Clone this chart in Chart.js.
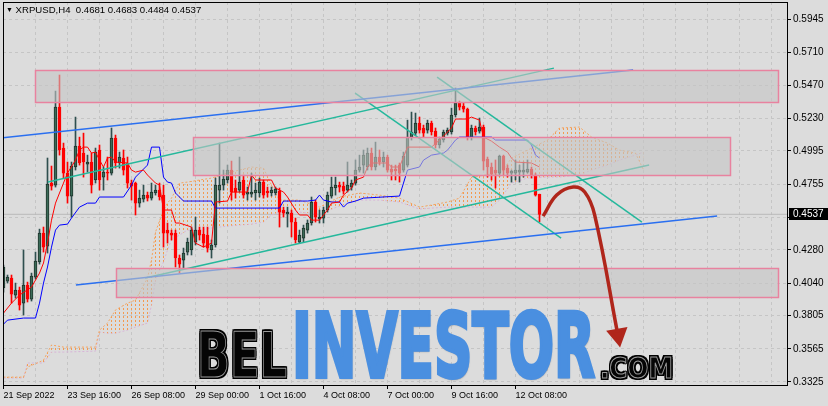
<!DOCTYPE html>
<html lang="en">
<head>
<meta charset="UTF-8">
<title>XRPUSD,H4</title>
<style>
  body { margin: 0; background: #dcdcdc; }
  .wrap { position: relative; width: 828px; height: 406px; overflow: hidden; background: #dcdcdc; }
  canvas { display: block; }
  .title { position: absolute; left: 6px; top: 4px; font: 9.6px 'Liberation Sans', Arial, sans-serif; color: #000; white-space: pre; line-height: 12px; }
  .title .tri { font-size: 7px; vertical-align: 1px; }
  .wm { position: absolute; white-space: nowrap; line-height: 1; transform-origin: 0 0; font-family: 'DejaVu Sans', sans-serif; font-weight: bold; }
  .blk { color: #050505; -webkit-text-stroke: 1px #9a9a9a;
         text-shadow: 2px 0 0 #000, -2px 0 0 #000, 0 2px 0 #000, 0 -2px 0 #000, 2px 2px 0 #000, -2px -2px 0 #000, 2px -2px 0 #000, -2px 2px 0 #000; }
  .blue { color: #4a8fe0; -webkit-text-stroke: 4px #4a8fe0; text-shadow: 1px 2px 2px rgba(0,0,0,0.35); }
</style>
<script src="https://cdn.jsdelivr.net/npm/chart.js"></script>
</head>
<body>
<div class="wrap">
  <canvas id="chart" width="828" height="406"></canvas>
  <div class="title"><span class="tri">▼</span> XRPUSD,H4  0.4681 0.4683 0.4484 0.4537</div>
  <span id="wmBel" class="wm blk">BEL</span>
  <span id="wmInv" class="wm blue">INVESTOR</span>
  <span id="wmCom" class="wm blk">.COM</span>
</div>

<script>
// ---- data ----
const xLabels = ['21 Sep 2022', '23 Sep 16:00', '26 Sep 08:00', '29 Sep 00:00', '1 Oct 16:00',
                 '4 Oct 08:00', '7 Oct 00:00', '9 Oct 16:00', '12 Oct 08:00'];
const yTicks = [0.5945, 0.5710, 0.5470, 0.5230, 0.4995, 0.4755, 0.4515, 0.4280, 0.4040, 0.3805, 0.3565, 0.3325];
const lastPrice = 0.4537;

const opens = [0.4004,0.4054,0.4076,0.3953,0.3989,0.3895,0.4025,0.3924,0.4083,0.4192,
  0.4401,0.4307,0.4763,0.4748,0.5312,0.5016,0.4835,0.4669,0.4879,0.5030,
  0.4980,0.4900,0.4915,0.4785,0.5002,0.4806,0.4842,0.4835,0.5088,0.4908,
  0.4944,0.4908,0.4763,0.4763,0.4618,0.4647,0.4676,0.4654,0.4691,0.4712,
  0.4676,0.4423,0.4401,0.4401,0.4221,0.4206,0.4264,0.4279,0.4336,0.4423,
  0.4394,0.4387,0.4279,0.4315,0.4712,0.4748,0.4785,0.4857,0.4727,0.4712,
  0.4785,0.4683,0.4683,0.4691,0.4691,0.4770,0.4705,0.4691,0.4691,0.4705,
  0.4568,0.4539,0.4546,0.4481,0.4336,0.4365,0.4423,0.4474,0.4626,0.4503,
  0.4510,0.4568,0.4669,0.4727,0.4748,0.4741,0.4712,0.4734,0.4763,0.4857,
  0.4893,0.4879,0.4980,0.4879,0.4951,0.4915,0.4951,0.4864,0.4864,0.4893,
  0.4857,0.4893,0.5095,0.5124,0.5197,0.5161,0.5146,0.5197,0.5139,0.5038,
  0.5074,0.5124,0.5132,0.5255,0.5341,0.5320,0.5298,0.5095,0.5161,0.5139,
  0.5168,0.4937,0.4879,0.4857,0.4835,0.4958,0.4871,0.4835,0.4835,0.4842,
  0.4842,0.4842,0.4864,0.4821,0.4681];
const highs = [0.4170,0.4098,0.4098,0.4040,0.4011,0.4279,0.4047,0.4112,0.4264,0.4430,
  0.4445,0.4944,0.4886,0.5428,0.5544,0.5052,0.4915,0.4915,0.5240,0.5095,
  0.5124,0.4965,0.4980,0.5016,0.5038,0.4879,0.4951,0.5161,0.5110,0.4987,
  0.5002,0.4951,0.4785,0.4770,0.4712,0.4748,0.4698,0.4763,0.4748,0.4763,
  0.4748,0.4474,0.4423,0.4423,0.4243,0.4293,0.4365,0.4445,0.4517,0.4445,
  0.4445,0.4445,0.4351,0.4799,0.5052,0.4857,0.4893,0.4922,0.4785,0.4951,
  0.4821,0.4734,0.4835,0.4763,0.4799,0.4785,0.4734,0.4734,0.4734,0.4727,
  0.4589,0.4589,0.4568,0.4510,0.4423,0.4459,0.4496,0.4662,0.4640,0.4568,
  0.4589,0.4698,0.4806,0.4806,0.4770,0.4770,0.4915,0.4785,0.4930,0.4965,
  0.5002,0.5016,0.5016,0.5059,0.5002,0.4987,0.4965,0.4893,0.4893,0.4908,
  0.4987,0.5218,0.5276,0.5269,0.5240,0.5182,0.5218,0.5211,0.5161,0.5095,
  0.5146,0.5161,0.5305,0.5450,0.5356,0.5341,0.5305,0.5182,0.5175,0.5233,
  0.5182,0.4951,0.4908,0.4930,0.4965,0.4965,0.4893,0.4857,0.4930,0.4893,
  0.4915,0.4930,0.4879,0.4835,0.4683];
const lows = [0.3975,0.4040,0.3895,0.3931,0.3845,0.3809,0.3903,0.3910,0.4069,0.4177,
  0.4264,0.4257,0.4712,0.4734,0.4965,0.4799,0.4618,0.4517,0.4857,0.4893,
  0.4806,0.4842,0.4691,0.4763,0.4712,0.4712,0.4785,0.4821,0.4871,0.4871,
  0.4821,0.4727,0.4640,0.4532,0.4589,0.4626,0.4633,0.4640,0.4676,0.4640,
  0.4300,0.4329,0.4351,0.4156,0.4112,0.4141,0.4243,0.4243,0.4315,0.4351,
  0.4300,0.4264,0.4221,0.4300,0.4618,0.4712,0.4763,0.4640,0.4654,0.4698,
  0.4654,0.4640,0.4662,0.4640,0.4662,0.4654,0.4662,0.4669,0.4676,0.4445,
  0.4517,0.4445,0.4373,0.4329,0.4329,0.4336,0.4401,0.4459,0.4481,0.4474,
  0.4474,0.4553,0.4654,0.4676,0.4698,0.4683,0.4698,0.4712,0.4748,0.4842,
  0.4835,0.4857,0.4857,0.4857,0.4893,0.4879,0.4842,0.4785,0.4785,0.4770,
  0.4842,0.4879,0.5074,0.5110,0.5124,0.5095,0.5124,0.5110,0.5016,0.5016,
  0.5059,0.5110,0.5117,0.5240,0.5291,0.5276,0.5074,0.5074,0.5110,0.5124,
  0.4857,0.4806,0.4785,0.4727,0.4814,0.4821,0.4806,0.4770,0.4785,0.4770,
  0.4806,0.4835,0.4799,0.4669,0.4484];
const closes = [0.4156,0.4083,0.3960,0.3989,0.3881,0.4025,0.3924,0.4091,0.4199,0.4401,
  0.4300,0.4756,0.4741,0.5312,0.5002,0.4835,0.4669,0.4886,0.5030,0.4908,
  0.4915,0.4915,0.4748,0.4987,0.4785,0.4842,0.4835,0.5088,0.4908,0.4951,
  0.4857,0.4763,0.4741,0.4618,0.4654,0.4676,0.4654,0.4698,0.4712,0.4662,
  0.4401,0.4401,0.4387,0.4221,0.4177,0.4257,0.4336,0.4423,0.4423,0.4387,
  0.4329,0.4293,0.4315,0.4748,0.4748,0.4792,0.4857,0.4698,0.4698,0.4770,
  0.4676,0.4698,0.4698,0.4712,0.4770,0.4676,0.4691,0.4712,0.4720,0.4553,
  0.4546,0.4553,0.4481,0.4351,0.4387,0.4438,0.4474,0.4626,0.4517,0.4517,
  0.4568,0.4676,0.4734,0.4748,0.4734,0.4705,0.4748,0.4763,0.4857,0.4879,
  0.4965,0.4980,0.4879,0.4951,0.4915,0.4951,0.4857,0.4842,0.4850,0.4835,
  0.4958,0.5095,0.5132,0.5197,0.5146,0.5124,0.5197,0.5132,0.5038,0.5081,
  0.5132,0.5146,0.5255,0.5341,0.5312,0.5298,0.5095,0.5161,0.5132,0.5168,
  0.4922,0.4879,0.4828,0.4835,0.4958,0.4857,0.4835,0.4850,0.4857,0.4857,
  0.4857,0.4864,0.4821,0.4676,0.4537];

// Ichimoku lines (bar index, price)
const tenkanBars = [0,2,4,7,9,10,11,12,13,14,15,16,18,19,20,21,22,23,24,25,26,27,28,31,32,33,35,36,38,39,
  40,42,43,44,47,48,50,52,53,56,57,61,62,63,67,68,70,71,73,74,76,77,79,81,82,84,85,87,88,90,
  91,92,96,97,99,101,107,109,112,113,116,117,119,120,122,124,126,127,128,132,134];
const tenkanVals = [0.3823,0.3895,0.3953,0.4011,0.4112,0.4185,0.4329,0.4495,0.4618,0.4691,
  0.4763,0.4835,0.4929,0.5001,0.5023,0.5023,0.4980,0.4987,0.4929,0.4879,
  0.4944,0.4951,0.4915,0.4908,0.4857,0.4842,0.4857,0.4821,0.4763,0.4748,
  0.4568,0.4568,0.4474,0.4474,0.4445,0.4329,0.4300,0.4329,0.4626,0.4633,
  0.4698,0.4698,0.4821,0.4785,0.4785,0.4727,0.4698,0.4662,0.4568,0.4532,
  0.4532,0.4495,0.4495,0.4568,0.4618,0.4626,0.4676,0.4727,0.4785,0.4806,
  0.4879,0.4908,0.4908,0.4879,0.4879,0.5023,0.5023,0.5074,0.5161,0.5226,
  0.5226,0.5240,0.5218,0.5095,0.5066,0.5023,0.4987,0.4944,0.4915,0.4908,0.4879];
const kijunBars = [0,1,5,8,9,10,11,12,13,14,16,17,19,21,23,24,30,32,33,36,
  37,39,40,41,42,43,45,52,53,69,70,76,78,79,80,82,84,85,86,88,
  90,99,100,101,104,105,107,110,111,113,114,122,123,131,132,133,134];
const kijunVals = [0.3743,0.3772,0.3787,0.3787,0.3895,0.4040,0.4156,0.4300,0.4423,0.4459,
  0.4466,0.4510,0.4589,0.4618,0.4618,0.4662,0.4662,0.4748,0.4806,0.4893,
  0.5023,0.5023,0.4806,0.4770,0.4763,0.4691,0.4633,0.4633,0.4582,0.4582,
  0.4633,0.4633,0.4640,0.4676,0.4640,0.4626,0.4626,0.4589,0.4618,0.4633,
  0.4654,0.4669,0.4763,0.4857,0.4879,0.4929,0.4965,0.4980,0.5001,0.5074,
  0.5095,0.5095,0.5074,0.5074,0.5038,0.4965,0.4944];
const cloudBars = [0,5,6,9,10,12,15,23,24,26,28,31,33,36,37,38,40,41,42,44,
  46,49,52,56,59,62,65,67,69,74,79,84,89,94,99,104,107,111,114,117,
  122,124,127,131,136,139,144,147,151,154,158,160];
const spanA = [0.3360,0.3360,0.3433,0.3469,0.3483,0.3592,0.3577,0.3577,0.3700,0.3751,
  0.3845,0.3895,0.3917,0.4076,0.4206,0.4409,0.4568,0.4618,0.4654,0.4763,
  0.4770,0.4785,0.4799,0.4835,0.4857,0.4879,0.4871,0.4748,0.4640,0.4640,
  0.4589,0.4662,0.4691,0.4676,0.4654,0.4589,0.4604,0.4626,0.4654,0.4806,
  0.4828,0.4821,0.4944,0.5001,0.5074,0.5161,0.5168,0.5095,0.5052,0.5001,0.4980,0.4857];
const spanB = [0.3353,0.3353,0.3462,0.3462,0.3462,0.3541,0.3541,0.3548,0.3686,0.3678,
  0.3678,0.3700,0.3722,0.3751,0.3881,0.4062,0.4192,0.4278,0.4351,0.4387,
  0.4423,0.4423,0.4438,0.4452,0.4459,0.4466,0.4481,0.4532,0.4553,0.4553,
  0.4539,0.4597,0.4640,0.4640,0.4626,0.4575,0.4582,0.4589,0.4589,0.4589,
  0.4589,0.4640,0.4763,0.4799,0.4806,0.4806,0.4821,0.4857,0.4893,0.4929,0.4965,0.4987];

// drawn objects: trend lines [[bar, price], [bar, price]]
const blueUpper = [[-0.9, 0.5088], [157.4, 0.5580]];
const blueLower = [[18.1, 0.4026], [178.4, 0.4524]];
const tealUpper = [[11.1, 0.4770], [137.6, 0.5594]];
const tealLower = [[35.4, 0.4076], [161.4, 0.4893]];
const tealDown1 = [[87.9, 0.5414], [139.4, 0.4365]];
const tealDown2 = [[108.4, 0.5529], [159.6, 0.4481]];

// zones: start bar, end bar, top price, bottom price
const zoneStart = [7.9, 47.4, 28.1];
const zoneEnd = [193.6, 181.6, 193.6];
const zoneHigh = [0.5580, 0.5096, 0.4149];
const zoneLow = [0.5349, 0.4821, 0.3939];

// forecast arrow
const arrowBars = [134.9, 138.3, 142.4, 145.3, 147.8, 153.6];
const arrowPrices = [0.4524, 0.4676, 0.4734, 0.4698, 0.4531, 0.3664];

// ---- chart ----
Chart.defaults.font.family = "'Liberation Sans', Arial, sans-serif";
Chart.defaults.font.size = 10;
Chart.defaults.color = '#000';

function hatch(color) {
  const c = document.createElement('canvas');
  c.width = 4; c.height = 4;
  const g = c.getContext('2d');
  g.fillStyle = color;
  g.fillRect(3, 0, 1, 2);
  return g.createPattern(c, 'repeat');
}

const pts = (bars, vals) => bars.map((b, i) => ({ x: b, y: vals[i] }));
const seg = (p) => p.map(q => ({ x: q[0], y: q[1] }));
const idx = opens.map((_, i) => i);
const bull = opens.map((o, i) => closes[i] >= o);
const cloudHatch = hatch('#f39a50');

function trend(label, p, color) {
  return { type: 'line', label, data: seg(p), borderColor: color, borderWidth: 1.5,
           pointRadius: 0, fill: false, order: 3 };
}

const zonePlugin = {
  id: 'zones',
  beforeDatasetDraw(chart, args) {
    if (chart.data.datasets[args.index].label !== 'Arrow') return;
    const { ctx, scales: { x, y } } = chart;
    ctx.save();
    for (let i = 0; i < zoneStart.length; i++) {
      const x1 = Math.round(x.getPixelForValue(zoneStart[i])) + 0.5;
      const x2 = Math.round(x.getPixelForValue(zoneEnd[i])) + 0.5;
      const y1 = Math.round(y.getPixelForValue(zoneHigh[i])) + 0.5;
      const y2 = Math.round(y.getPixelForValue(zoneLow[i])) + 0.5;
      ctx.fillStyle = 'rgba(196,196,196,0.6)';
      ctx.fillRect(x1, y1, x2 - x1, y2 - y1);
      ctx.strokeStyle = '#e8829f';
      ctx.lineWidth = 1.5;
      ctx.strokeRect(x1, y1, x2 - x1, y2 - y1);
    }
    ctx.restore();
  }
};

const framePlugin = {
  id: 'frame',
  afterDraw(chart) {
    const { ctx, chartArea: a, scales: { y } } = chart;
    ctx.save();
    ctx.strokeStyle = '#000';
    ctx.lineWidth = 1;
    ctx.strokeRect(a.left + 0.5, a.top + 0.5, a.right - a.left, a.bottom - a.top);
    const py = Math.round(y.getPixelForValue(lastPrice));
    ctx.fillStyle = '#000';
    ctx.fillRect(a.right + 2, py - 6, 41, 12);
    ctx.fillStyle = '#fff';
    ctx.font = "10px 'Liberation Sans', Arial, sans-serif";
    ctx.textBaseline = 'middle';
    ctx.fillText(lastPrice.toFixed(4), a.right + 6, py);
    ctx.restore();
  }
};

new Chart(document.getElementById('chart'), {
  type: 'bar',
  data: {
    datasets: [
      { type: 'line', label: 'Arrow', data: pts(arrowBars, arrowPrices), borderColor: '#b0261b',
        borderWidth: 3.5, tension: 0.4, fill: false, order: 0,
        pointRadius: c => c.dataIndex === arrowBars.length - 1 ? 9 : 0,
        pointStyle: 'triangle', pointRotation: 170,
        pointBackgroundColor: '#b0261b', pointBorderColor: '#b0261b' },
      trend('Blue upper', blueUpper, '#2a6ff0'),
      trend('Blue lower', blueLower, '#2a6ff0'),
      trend('Teal upper', tealUpper, '#25b89c'),
      trend('Teal lower', tealLower, '#25b89c'),
      trend('Teal down 1', tealDown1, '#25b89c'),
      trend('Teal down 2', tealDown2, '#25b89c'),
      { type: 'line', label: 'Tenkan-sen', data: pts(tenkanBars, tenkanVals), borderColor: '#ff0000',
        borderWidth: 1, pointRadius: 0, fill: false, order: 4 },
      { type: 'line', label: 'Kijun-sen', data: pts(kijunBars, kijunVals), borderColor: '#0000ff',
        borderWidth: 1, pointRadius: 0, fill: false, order: 4 },
      { type: 'bar', label: 'Body', data: idx.map(i => ({ x: i, y: [opens[i], closes[i]] })),
        backgroundColor: bull.map(b => b ? '#3b6b58' : '#ff0000'),
        borderColor: bull.map(b => b ? '#1e332b' : '#ff0000'),
        borderWidth: 1, borderSkipped: false, barThickness: 3, grouped: false, order: 6 },
      { type: 'bar', label: 'Wick', data: idx.map(i => ({ x: i, y: [lows[i], highs[i]] })),
        backgroundColor: bull.map(b => b ? '#2f4f4f' : '#ff0000'),
        barThickness: 1, grouped: false, order: 7 },
      { type: 'line', label: 'Senkou Span A', data: pts(cloudBars, spanA), borderColor: '#f4a460',
        borderWidth: 1, borderDash: [2, 2], pointRadius: 0, order: 8,
        backgroundColor: cloudHatch, fill: { target: '+1', above: cloudHatch, below: cloudHatch } },
      { type: 'line', label: 'Senkou Span B', data: pts(cloudBars, spanB), borderColor: '#d8b4d8',
        borderWidth: 1, borderDash: [2, 2], pointRadius: 0, fill: false, order: 8 },
      { type: 'line', label: 'Bid', data: [{ x: -1, y: lastPrice }, { x: 200, y: lastPrice }],
        borderColor: '#b9b9b9', borderWidth: 1, pointRadius: 0, fill: false, order: 9 }
    ]
  },
  options: {
    responsive: false,
    animation: false,
    devicePixelRatio: 1,
    layout: { autoPadding: false, padding: { left: 3, top: 2, right: 0, bottom: 0 } },
    plugins: { legend: { display: false }, tooltip: { enabled: false } },
    scales: {
      x: {
        type: 'linear', min: -0.125, max: 195.875, offset: false,
        afterBuildTicks: s => { s.ticks = []; for (let v = 0; v <= 192; v += 8) s.ticks.push({ value: v }); },
        afterFit: s => { s.height = 21; s.paddingLeft = 0; s.paddingRight = 0; },
        grid: { offset: false, color: '#c5c5c5', tickLength: 4,
                tickColor: c => (c.tick && c.tick.label) ? '#000' : 'rgba(0,0,0,0)' },
        border: { display: false, dash: [3, 3] },
        ticks: { autoSkip: false, maxRotation: 0, align: 'start', padding: 1, font: { size: 9 },
                 callback: v => (v % 16 === 0 && xLabels[v / 16]) ? xLabels[v / 16] : '' }
      },
      y: {
        type: 'linear', position: 'right', min: 0.3303, max: 0.6072,
        afterBuildTicks: s => { s.ticks = yTicks.map(v => ({ value: v })); },
        afterFit: s => { s.width = 41; s.paddingTop = 0; s.paddingBottom = 0; },
        grid: { color: '#c5c5c5', tickLength: 4, tickColor: '#000' },
        border: { display: false, dash: [3, 3] },
        ticks: { padding: 2, autoSkip: false, callback: v => v === 0.4515 ? '' : v.toFixed(4) }
      }
    }
  },
  plugins: [zonePlugin, framePlugin]
});

// watermark words, sized to the boxes they take in the picture
function fitWord(id, left, capTop, width, capH) {
  const el = document.getElementById(id);
  const fs = capH / 0.729;
  el.style.fontSize = fs + 'px';
  el.style.left = left + 'px';
  el.style.top = (capTop - 0.117 * fs) + 'px';
  const w = el.getBoundingClientRect().width;
  el.style.transform = 'scaleX(' + (width / w) + ')';
}
fitWord('wmBel', 197, 333, 90, 45);
fitWord('wmInv', 292, 312, 303, 65);
fitWord('wmCom', 600, 357, 73, 21);
</script>
</body>
</html>
